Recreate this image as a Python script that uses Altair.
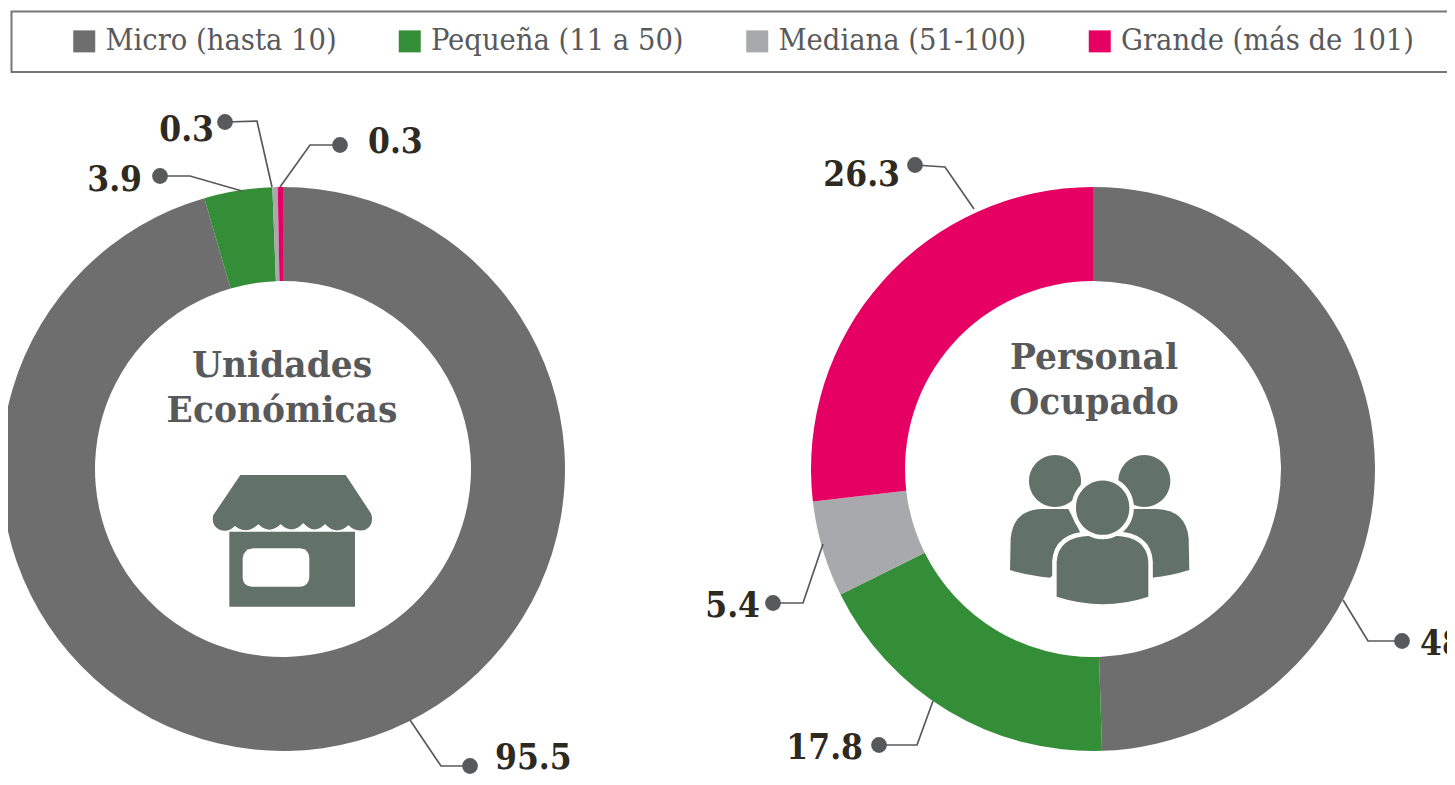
import altair as alt
import pandas as pd

# ---- chart values
categories = ["Micro (hasta 10)", "Pequeña (11 a 50)", "Mediana (51-100)", "Grande (más de 101)"]
unidades = [95.5, 3.9, 0.3, 0.3]
personal = [48.5, 17.8, 5.4, 26.3]
colors = ["#6e6e6e", "#348e37", "#a7a9ac", "#e60064"]
center_titles = [["Unidades", "Económicas"], ["Personal", "Ocupado"]]

OFF = 8  # page margin
W, H = 1439, 769
CX = [283 - OFF, 1093 - OFF]
CY = 469 - OFF
R_OUT, R_IN = 282, 188
TXT = "#2e2a1f"
GREY = "#58595b"
LEAD = "#58595b"
ICON = "#62716a"
LABEL_FONT = "DejaVu Serif Condensed"
TITLE_FONT = "DejaVu Serif"
LEG_FONT = "DejaVu Serif Condensed"

def ring(values):
    return pd.DataFrame({"cat": categories, "value": values, "order": range(4)})

layers = []

# legend frame
layers.append(
    alt.Chart(pd.DataFrame({"a": [0]})).mark_rect(fill="white", stroke="#777777", strokeWidth=2).encode(
        x=alt.value(11 - OFF + 0.5), x2=alt.value(1470), y=alt.value(11 - OFF + 0.5), y2=alt.value(72 - OFF)
    )
)

# donuts
for values, cx in zip([unidades, personal], CX):
    layers.append(
        alt.Chart(ring(values)).mark_arc(radius=R_OUT, radius2=R_IN).encode(
            theta=alt.Theta("value:Q", stack=True),
            order=alt.Order("order:Q"),
            color=alt.Color(
                "cat:N",
                scale=alt.Scale(domain=categories, range=colors),
                legend=alt.Legend(
                    title=None, orient="none", legendX=69 - OFF, legendY=26 - OFF,
                    direction="horizontal", columns=4, symbolType="square", symbolSize=484,
                    symbolStrokeWidth=0, labelFont=LEG_FONT, labelFontSize=30.5, labelColor=GREY,
                    labelOffset=6, columnPadding=57.5, labelLimit=400, padding=0,
                ),
            ),
            x=alt.value(cx),
            y=alt.value(CY),
        )
    )

# call-outs: value, end on ring, elbow, dot, text anchor, side (image pixels)
callouts = [
    (95.5, (410, 720), (441, 766), (470, 766), (495, 758), "left"),
    (3.9, (242, 191), (190, 176), (160, 176), (142, 180), "right"),
    (0.3, (272, 187), (257, 121), (225, 122), (214, 129.5), "right"),
    (0.3, (280, 187), (310, 145), (340, 145), (368, 141.5), "left"),
    (26.3, (974, 209), (945, 167), (915, 165), (900, 175), "right"),
    (5.4, (823, 544), (803, 603), (773, 603), (760, 606), "right"),
    (17.8, (933, 701), (917, 745), (879, 745), (863, 748), "right"),
    (48.5, (1343, 600), (1368, 641), (1402, 641), (1420, 644), "left"),
]

rows = []
for i, c in enumerate(callouts):
    for k, p in enumerate(c[1:4]):
        rows.append({"id": i, "k": k, "x": p[0] - OFF, "y": p[1] - OFF})
lead_df = pd.DataFrame(rows)
layers.append(
    alt.Chart(lead_df).mark_line(color=LEAD, strokeWidth=1.7).encode(
        x=alt.X("x:Q", scale=None), y=alt.Y("y:Q", scale=None),
        detail="id:N", order="k:Q",
    )
)
dots = pd.DataFrame([{"x": c[3][0] - OFF, "y": c[3][1] - OFF} for c in callouts])
layers.append(
    alt.Chart(dots).mark_point(filled=True, shape="circle", size=250, color=LEAD, opacity=1).encode(
        x=alt.X("x:Q", scale=None), y=alt.Y("y:Q", scale=None)
    )
)
for side in ["left", "right"]:
    d = pd.DataFrame([
        {"t": f"{c[0]:.1f}", "x": c[4][0] - OFF, "y": c[4][1] - OFF} for c in callouts if c[5] == side
    ])
    layers.append(
        alt.Chart(d).mark_text(align=side, baseline="middle", font=LABEL_FONT, fontWeight="bold",
                               fontSize=35, color=TXT).encode(
            x=alt.X("x:Q", scale=None), y=alt.Y("y:Q", scale=None), text="t:N"
        )
    )

# titles in the holes
title_rows = []
for (a, b), cx, ys in zip(center_titles, [282, 1094], [(367, 412), (359, 404)]):
    title_rows.append({"t": a, "x": cx - OFF, "y": ys[0] - OFF})
    title_rows.append({"t": b, "x": cx - OFF, "y": ys[1] - OFF})
layers.append(
    alt.Chart(pd.DataFrame(title_rows)).mark_text(align="center", baseline="middle", font=TITLE_FONT,
                                                  fontWeight="bold", fontSize=34.5, color=GREY).encode(
        x=alt.X("x:Q", scale=None), y=alt.Y("y:Q", scale=None), text="t:N"
    )
)

# icons as custom symbol paths (size=4 -> path units are pixels)
def icon(path, ax, ay, fill, stroke=None, sw=0):
    kw = dict(shape=path, size=4, filled=True, fill=fill, opacity=1)
    if stroke:
        kw.update(stroke=stroke, strokeWidth=sw)
    else:
        kw.update(strokeWidth=0)
    return alt.Chart(pd.DataFrame({"a": [0]})).mark_point(**kw).encode(
        x=alt.value(ax - OFF), y=alt.value(ay - OFF)
    )

S = 1 / 3
def P(seg, ox, oy):
    """seg: list of (cmd, coords in zoom units) relative to anchor ox, oy."""
    out = []
    for cmd, *xy in seg:
        pts = " ".join(f"{round((v - (ox if i % 2 == 0 else oy)) * S, 2)}" for i, v in enumerate(xy))
        out.append(cmd + pts)
    return "".join(out) + "Z"

def circle(cx, cy, r, ox, oy):
    x0, x1, y = round((cx - r - ox) * S, 2), round((cx + r - ox) * S, 2), round((cy - oy) * S, 2)
    rr = round(r * S, 2)
    return f"M{x0} {y}A{rr} {rr} 0 1 0 {x1} {y}A{rr} {rr} 0 1 0 {x0} {y}Z"

# shop
ox, oy = 300, 240
ax, ay = 190 + ox / 3, 460 + oy / 3
body = [("M", 118, 215), ("L", 495, 215), ("L", 495, 440), ("L", 118, 440)]
window = [("M", 190, 265), ("L", 330, 265), ("Q", 358, 268, 358, 295), ("L", 358, 352), ("Q", 356, 380, 330, 380),
          ("L", 185, 380), ("Q", 158, 378, 158, 352), ("L", 158, 295), ("Q", 160, 268, 190, 265)]
roof = [("M", 150, 43), ("L", 468, 43), ("L", 545, 160), ("Q", 556, 198, 525, 212), ("Q", 495, 218, 475, 198),
        ("Q", 440, 230, 405, 195), ("Q", 372, 227, 340, 192), ("Q", 306, 227, 272, 195),
        ("Q", 238, 227, 205, 195), ("Q", 170, 227, 135, 200), ("Q", 115, 220, 90, 212),
        ("Q", 60, 198, 68, 165)]
layers.append(icon(P(body, ox, oy), ax, ay, ICON))
layers.append(icon(P(window, ox, oy), ax, ay, "white"))
layers.append(icon(P(roof, ox, oy), ax, ay, ICON, "white", 1.2))

# people
ox, oy = 300, 255
ax, ay = 1000 + ox / 3, 445 + oy / 3
left_body = [("M", 30, 375), ("L", 32, 280), ("Q", 40, 195, 125, 192), ("L", 205, 192), ("L", 260, 300),
             ("L", 150, 398), ("Q", 85, 392, 30, 375)]
right_body = [("M", 568, 375), ("L", 566, 280), ("Q", 558, 195, 470, 192), ("L", 395, 192), ("L", 340, 300),
              ("L", 455, 398), ("Q", 515, 392, 568, 375)]
front_body = [("M", 170, 455), ("L", 170, 350), ("Q", 175, 275, 270, 272), ("L", 345, 272),
              ("Q", 440, 275, 445, 350), ("L", 445, 455), ("Q", 310, 500, 170, 455)]
layers.append(icon(P(left_body, ox, oy), ax, ay, ICON))
layers.append(icon(P(right_body, ox, oy), ax, ay, ICON))
layers.append(icon(circle(165, 108, 78, ox, oy), ax, ay, ICON))
layers.append(icon(circle(433, 108, 78, ox, oy), ax, ay, ICON))
layers.append(icon(P(front_body, ox, oy), ax, ay, ICON, "white", 9))
layers.append(icon(P(front_body, ox, oy), ax, ay, ICON))
layers.append(icon(circle(308, 188, 80, ox, oy), ax, ay, ICON, "white", 9))
layers.append(icon(circle(308, 188, 80, ox, oy), ax, ay, ICON))

chart = (
    alt.layer(*layers)
    .resolve_scale(theta="independent")
    .properties(width=W, height=H, padding=0, autosize=alt.AutoSizeParams(type="none"))
    .configure_view(stroke=None)
)
chart.save("out.html", embed_options={"renderer": "svg", "actions": False})
